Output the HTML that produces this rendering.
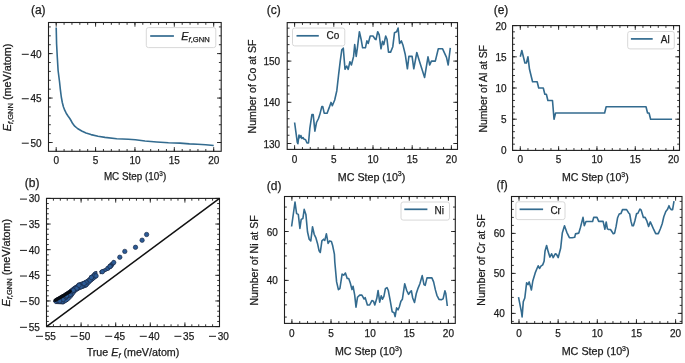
<!DOCTYPE html>
<html><head><meta charset="utf-8"><style>
html,body{margin:0;padding:0;background:#fff;}
svg{display:block;will-change:transform;}
text{font-family:"Liberation Sans",sans-serif;fill:#1c1c1c;stroke:#1c1c1c;stroke-width:0.25px;}
</style></head><body>
<svg width="685" height="363" viewBox="0 0 685 363">
<rect width="685" height="363" fill="#fff"/>
<rect x="48.5" y="22.5" width="172.7" height="128.8" fill="none" stroke="#1e1e1e" stroke-width="1.1"/>
<path d="M56.2 151.3v-4.2M56.2 22.5v4.2M95.58 151.3v-4.2M95.58 22.5v4.2M134.95 151.3v-4.2M134.95 22.5v4.2M174.32 151.3v-4.2M174.32 22.5v4.2M213.7 151.3v-4.2M213.7 22.5v4.2M56.2 151.3v-2.3M56.2 22.5v2.3M64.08 151.3v-2.3M64.08 22.5v2.3M71.95 151.3v-2.3M71.95 22.5v2.3M79.83 151.3v-2.3M79.83 22.5v2.3M87.7 151.3v-2.3M87.7 22.5v2.3M95.58 151.3v-2.3M95.58 22.5v2.3M103.45 151.3v-2.3M103.45 22.5v2.3M111.33 151.3v-2.3M111.33 22.5v2.3M119.2 151.3v-2.3M119.2 22.5v2.3M127.08 151.3v-2.3M127.08 22.5v2.3M134.95 151.3v-2.3M134.95 22.5v2.3M142.82 151.3v-2.3M142.82 22.5v2.3M150.7 151.3v-2.3M150.7 22.5v2.3M158.57 151.3v-2.3M158.57 22.5v2.3M166.45 151.3v-2.3M166.45 22.5v2.3M174.32 151.3v-2.3M174.32 22.5v2.3M182.2 151.3v-2.3M182.2 22.5v2.3M190.07 151.3v-2.3M190.07 22.5v2.3M197.95 151.3v-2.3M197.95 22.5v2.3M205.82 151.3v-2.3M205.82 22.5v2.3M213.7 151.3v-2.3M213.7 22.5v2.3M48.5 53.6h4.2M221.2 53.6h-4.2M48.5 98.05h4.2M221.2 98.05h-4.2M48.5 142.5h4.2M221.2 142.5h-4.2M48.5 142.5h2.3M221.2 142.5h-2.3M48.5 133.61h2.3M221.2 133.61h-2.3M48.5 124.72h2.3M221.2 124.72h-2.3M48.5 115.83h2.3M221.2 115.83h-2.3M48.5 106.94h2.3M221.2 106.94h-2.3M48.5 98.05h2.3M221.2 98.05h-2.3M48.5 89.16h2.3M221.2 89.16h-2.3M48.5 80.27h2.3M221.2 80.27h-2.3M48.5 71.38h2.3M221.2 71.38h-2.3M48.5 62.49h2.3M221.2 62.49h-2.3M48.5 53.6h2.3M221.2 53.6h-2.3M48.5 44.71h2.3M221.2 44.71h-2.3M48.5 35.82h2.3M221.2 35.82h-2.3M48.5 26.93h2.3M221.2 26.93h-2.3" stroke="#1e1e1e" stroke-width="0.9" fill="none"/>
<polyline points="56.2,27.5 56.6,44 57.3,57.2 58.1,70.5 59.5,81.5 60.4,89.8 61.3,97 62.3,102.5 63.4,106.8 64.7,110.2 66.2,113.2 68,116 69.8,118.5 71,120.5 72.5,123.3 74.7,126.2 77.5,128.5 81.7,131 86,133 91,134.6 98,136.3 105,137.4 116.7,138.7 128.4,139.2 135.4,139.8 145,141 156.7,142 168.4,142.8 180,143.1 189.4,143.9 197.6,144.3 205.7,144.8 213.7,145.5" fill="none" stroke="#336b8f" stroke-width="1.6" stroke-linejoin="round" stroke-linecap="butt"/>
<rect x="21.78" y="53.8" width="7" height="1" fill="#1c1c1c"/>
<text x="30.48" y="57.6" font-size="10">40</text>
<rect x="21.78" y="98.25" width="7" height="1" fill="#1c1c1c"/>
<text x="30.48" y="102.05" font-size="10">45</text>
<rect x="21.78" y="142.7" width="7" height="1" fill="#1c1c1c"/>
<text x="30.48" y="146.5" font-size="10">50</text>
<text x="56.2" y="164" font-size="10" text-anchor="middle" >0</text>
<text x="95.58" y="164" font-size="10" text-anchor="middle" >5</text>
<text x="134.95" y="164" font-size="10" text-anchor="middle" >10</text>
<text x="174.32" y="164" font-size="10" text-anchor="middle" >15</text>
<text x="213.7" y="164" font-size="10" text-anchor="middle" >20</text>
<text x="135.05" y="179.9" font-size="10" text-anchor="middle" textLength="62.3" lengthAdjust="spacingAndGlyphs">MC Step (10<tspan font-size="6.5" dy="-4.2">3</tspan><tspan dy="4.2">)</tspan></text>
<text x="38.3" y="14.2" font-size="12" text-anchor="middle" >(a)</text>
<text transform="translate(10.8,87.4) rotate(-90)" font-size="10.4" text-anchor="middle" textLength="87.7" lengthAdjust="spacingAndGlyphs"><tspan font-style="italic">E</tspan><tspan font-size="7.28" dy="2.2"><tspan font-style="italic">f</tspan>,GNN</tspan><tspan dy="-2.2"> (meV/atom)</tspan></text>
<rect x="146.3" y="27.6" width="69.5" height="20" rx="2.2" fill="#fff" fill-opacity="0.85" stroke="#d4d4d4" stroke-width="0.9"/>
<path d="M150.2 36H173.9" stroke="#336b8f" stroke-width="1.7"/>
<text x="181.3" y="40.2" font-size="10.8"><tspan font-style="italic">E</tspan><tspan font-size="7.6" dy="2.2"><tspan font-style="italic">f</tspan>,GNN</tspan></text>
<rect x="46.5" y="198.4" width="173" height="128.2" fill="none" stroke="#1e1e1e" stroke-width="1.1"/>
<path d="M46.5 326.6v-4.2M46.5 198.4v4.2M81.1 326.6v-4.2M81.1 198.4v4.2M115.7 326.6v-4.2M115.7 198.4v4.2M150.3 326.6v-4.2M150.3 198.4v4.2M184.9 326.6v-4.2M184.9 198.4v4.2M219.5 326.6v-4.2M219.5 198.4v4.2M53.42 326.6v-2.3M53.42 198.4v2.3M60.34 326.6v-2.3M60.34 198.4v2.3M67.26 326.6v-2.3M67.26 198.4v2.3M74.18 326.6v-2.3M74.18 198.4v2.3M81.1 326.6v-2.3M81.1 198.4v2.3M88.02 326.6v-2.3M88.02 198.4v2.3M94.94 326.6v-2.3M94.94 198.4v2.3M101.86 326.6v-2.3M101.86 198.4v2.3M108.78 326.6v-2.3M108.78 198.4v2.3M115.7 326.6v-2.3M115.7 198.4v2.3M122.62 326.6v-2.3M122.62 198.4v2.3M129.54 326.6v-2.3M129.54 198.4v2.3M136.46 326.6v-2.3M136.46 198.4v2.3M143.38 326.6v-2.3M143.38 198.4v2.3M150.3 326.6v-2.3M150.3 198.4v2.3M157.22 326.6v-2.3M157.22 198.4v2.3M164.14 326.6v-2.3M164.14 198.4v2.3M171.06 326.6v-2.3M171.06 198.4v2.3M177.98 326.6v-2.3M177.98 198.4v2.3M184.9 326.6v-2.3M184.9 198.4v2.3M191.82 326.6v-2.3M191.82 198.4v2.3M198.74 326.6v-2.3M198.74 198.4v2.3M205.66 326.6v-2.3M205.66 198.4v2.3M212.58 326.6v-2.3M212.58 198.4v2.3M46.5 326.6h4.2M219.5 326.6h-4.2M46.5 300.96h4.2M219.5 300.96h-4.2M46.5 275.32h4.2M219.5 275.32h-4.2M46.5 249.68h4.2M219.5 249.68h-4.2M46.5 224.04h4.2M219.5 224.04h-4.2M46.5 198.4h4.2M219.5 198.4h-4.2M46.5 321.47h2.3M219.5 321.47h-2.3M46.5 316.34h2.3M219.5 316.34h-2.3M46.5 311.22h2.3M219.5 311.22h-2.3M46.5 306.09h2.3M219.5 306.09h-2.3M46.5 300.96h2.3M219.5 300.96h-2.3M46.5 295.83h2.3M219.5 295.83h-2.3M46.5 290.7h2.3M219.5 290.7h-2.3M46.5 285.58h2.3M219.5 285.58h-2.3M46.5 280.45h2.3M219.5 280.45h-2.3M46.5 275.32h2.3M219.5 275.32h-2.3M46.5 270.19h2.3M219.5 270.19h-2.3M46.5 265.06h2.3M219.5 265.06h-2.3M46.5 259.94h2.3M219.5 259.94h-2.3M46.5 254.81h2.3M219.5 254.81h-2.3M46.5 249.68h2.3M219.5 249.68h-2.3M46.5 244.55h2.3M219.5 244.55h-2.3M46.5 239.42h2.3M219.5 239.42h-2.3M46.5 234.3h2.3M219.5 234.3h-2.3M46.5 229.17h2.3M219.5 229.17h-2.3M46.5 224.04h2.3M219.5 224.04h-2.3M46.5 218.91h2.3M219.5 218.91h-2.3M46.5 213.78h2.3M219.5 213.78h-2.3M46.5 208.66h2.3M219.5 208.66h-2.3M46.5 203.53h2.3M219.5 203.53h-2.3" stroke="#1e1e1e" stroke-width="0.9" fill="none"/>
<path d="M46.5 326.6L219.5 198.4" stroke="#111" stroke-width="1.5"/>
<rect x="19.98" y="198.6" width="7" height="1" fill="#1c1c1c"/>
<text x="28.68" y="202.4" font-size="10">30</text>
<rect x="19.98" y="224.24" width="7" height="1" fill="#1c1c1c"/>
<text x="28.68" y="228.04" font-size="10">35</text>
<rect x="19.98" y="249.88" width="7" height="1" fill="#1c1c1c"/>
<text x="28.68" y="253.68" font-size="10">40</text>
<rect x="19.98" y="275.52" width="7" height="1" fill="#1c1c1c"/>
<text x="28.68" y="279.32" font-size="10">45</text>
<rect x="19.98" y="301.16" width="7" height="1" fill="#1c1c1c"/>
<text x="28.68" y="304.96" font-size="10">50</text>
<rect x="19.98" y="326.8" width="7" height="1" fill="#1c1c1c"/>
<text x="28.68" y="330.6" font-size="10">55</text>
<rect x="35.99" y="335.8" width="7" height="1" fill="#1c1c1c"/>
<text x="44.69" y="339.6" font-size="10">55</text>
<rect x="70.59" y="335.8" width="7" height="1" fill="#1c1c1c"/>
<text x="79.29" y="339.6" font-size="10">50</text>
<rect x="105.19" y="335.8" width="7" height="1" fill="#1c1c1c"/>
<text x="113.89" y="339.6" font-size="10">45</text>
<rect x="139.79" y="335.8" width="7" height="1" fill="#1c1c1c"/>
<text x="148.49" y="339.6" font-size="10">40</text>
<rect x="174.39" y="335.8" width="7" height="1" fill="#1c1c1c"/>
<text x="183.09" y="339.6" font-size="10">35</text>
<rect x="208.99" y="335.8" width="7" height="1" fill="#1c1c1c"/>
<text x="217.69" y="339.6" font-size="10">30</text>
<text x="32.2" y="187.2" font-size="12" text-anchor="middle" >(b)</text>
<text transform="translate(9.6,262.65) rotate(-90)" font-size="10.4" text-anchor="middle" textLength="87.7" lengthAdjust="spacingAndGlyphs"><tspan font-style="italic">E</tspan><tspan font-size="7.28" dy="2.2"><tspan font-style="italic">f</tspan>,GNN</tspan><tspan dy="-2.2"> (meV/atom)</tspan></text>
<text x="133" y="355.5" font-size="10.4" text-anchor="middle" textLength="92.7" lengthAdjust="spacingAndGlyphs">True <tspan font-style="italic">E</tspan><tspan font-size="7" dy="2.2" font-style="italic">f</tspan><tspan dy="-2.2"> (meV/atom)</tspan></text>
<rect x="287.2" y="22.6" width="170.3" height="126.8" fill="none" stroke="#1e1e1e" stroke-width="1.1"/>
<path d="M294.6 149.4v-4.2M294.6 22.6v4.2M333.8 149.4v-4.2M333.8 22.6v4.2M373 149.4v-4.2M373 22.6v4.2M412.2 149.4v-4.2M412.2 22.6v4.2M451.4 149.4v-4.2M451.4 22.6v4.2M294.6 149.4v-2.3M294.6 22.6v2.3M302.44 149.4v-2.3M302.44 22.6v2.3M310.28 149.4v-2.3M310.28 22.6v2.3M318.12 149.4v-2.3M318.12 22.6v2.3M325.96 149.4v-2.3M325.96 22.6v2.3M333.8 149.4v-2.3M333.8 22.6v2.3M341.64 149.4v-2.3M341.64 22.6v2.3M349.48 149.4v-2.3M349.48 22.6v2.3M357.32 149.4v-2.3M357.32 22.6v2.3M365.16 149.4v-2.3M365.16 22.6v2.3M373 149.4v-2.3M373 22.6v2.3M380.84 149.4v-2.3M380.84 22.6v2.3M388.68 149.4v-2.3M388.68 22.6v2.3M396.52 149.4v-2.3M396.52 22.6v2.3M404.36 149.4v-2.3M404.36 22.6v2.3M412.2 149.4v-2.3M412.2 22.6v2.3M420.04 149.4v-2.3M420.04 22.6v2.3M427.88 149.4v-2.3M427.88 22.6v2.3M435.72 149.4v-2.3M435.72 22.6v2.3M443.56 149.4v-2.3M443.56 22.6v2.3M451.4 149.4v-2.3M451.4 22.6v2.3M287.2 143.5h4.2M457.5 143.5h-4.2M287.2 102.3h4.2M457.5 102.3h-4.2M287.2 61.1h4.2M457.5 61.1h-4.2M287.2 143.5h2.3M457.5 143.5h-2.3M287.2 135.26h2.3M457.5 135.26h-2.3M287.2 127.02h2.3M457.5 127.02h-2.3M287.2 118.78h2.3M457.5 118.78h-2.3M287.2 110.54h2.3M457.5 110.54h-2.3M287.2 102.3h2.3M457.5 102.3h-2.3M287.2 94.06h2.3M457.5 94.06h-2.3M287.2 85.82h2.3M457.5 85.82h-2.3M287.2 77.58h2.3M457.5 77.58h-2.3M287.2 69.34h2.3M457.5 69.34h-2.3M287.2 61.1h2.3M457.5 61.1h-2.3M287.2 52.86h2.3M457.5 52.86h-2.3M287.2 44.62h2.3M457.5 44.62h-2.3M287.2 36.38h2.3M457.5 36.38h-2.3M287.2 28.14h2.3M457.5 28.14h-2.3" stroke="#1e1e1e" stroke-width="0.9" fill="none"/>
<polyline points="294.6,122.5 297.3,142.4 297.9,143.7 299,135.1 299.9,137.7 300.9,135.5 301.9,138.4 303,137.5 303.9,139.1 305.6,139.7 307,143 308.5,143 309.9,127.8 311.9,114.6 313.2,114.6 314.9,131.1 316.5,122.5 318.5,118.5 319.8,114.6 321.8,106.6 322.8,106.6 324.2,113.2 327.1,113.2 329.1,107.9 331,102.4 332.3,105.7 334.7,100 336.8,90.7 338.5,75.7 340.3,60.7 341.8,49.9 343.3,48.2 345,69.3 346.7,66 348.2,69.3 349.9,61.7 351.4,65 353.6,56.4 354.7,44.6 356.2,56.4 357.4,47.8 359.4,31.7 361.1,39.2 362.6,47.8 365.4,47.8 366.9,40.9 368.2,43.5 370.2,36 373,36 375.2,39.2 376,39.6 377.7,31.7 379.2,34.9 381,48.8 382.5,41.3 383.8,44.6 385.7,36 387,39.2 388.5,52.1 390.6,52.1 392.8,46.7 394.5,32.7 396.6,31.7 398.1,28 399.6,43.5 401.4,40.9 403.1,45.6 405.2,54.2 407.4,68.8 408.9,56.4 412.1,56.4 413.8,68.8 416.8,52.5 419.6,61.7 424.6,77.4 428,56.8 429.7,65 431.4,61.1 435.3,61.1 438.3,48.8 442.6,48.8 446.5,57.4 448.2,65 450.3,47.8" fill="none" stroke="#336b8f" stroke-width="1.6" stroke-linejoin="round" stroke-linecap="butt"/>
<text x="280.2" y="147.5" font-size="10" text-anchor="end" >130</text>
<text x="280.2" y="106.3" font-size="10" text-anchor="end" >140</text>
<text x="280.2" y="65.1" font-size="10" text-anchor="end" >150</text>
<text x="294.6" y="162.5" font-size="10" text-anchor="middle" >0</text>
<text x="333.8" y="162.5" font-size="10" text-anchor="middle" >5</text>
<text x="373" y="162.5" font-size="10" text-anchor="middle" >10</text>
<text x="412.2" y="162.5" font-size="10" text-anchor="middle" >15</text>
<text x="451.4" y="162.5" font-size="10" text-anchor="middle" >20</text>
<text x="371.55" y="180.7" font-size="10.4" text-anchor="middle" textLength="67.5" lengthAdjust="spacingAndGlyphs">MC Step (10<tspan font-size="6.8" dy="-4.4">3</tspan><tspan dy="4.4">)</tspan></text>
<text x="273.8" y="14.2" font-size="12" text-anchor="middle" >(c)</text>
<text transform="translate(256.1,86.5) rotate(-90)" font-size="10.4" text-anchor="middle" textLength="93.8" lengthAdjust="spacingAndGlyphs">Number of Co at SF</text>
<rect x="292.5" y="28" width="52.3" height="17.9" rx="2.2" fill="#fff" fill-opacity="0.85" stroke="#d4d4d4" stroke-width="0.9"/>
<path d="M296.5 35.8H318.8" stroke="#336b8f" stroke-width="1.7"/>
<text x="326.6" y="39.3" font-size="10">Co</text>
<rect x="284.5" y="196.5" width="170.8" height="126.9" fill="none" stroke="#1e1e1e" stroke-width="1.1"/>
<path d="M291.9 323.4v-4.2M291.9 196.5v4.2M331.02 323.4v-4.2M331.02 196.5v4.2M370.15 323.4v-4.2M370.15 196.5v4.2M409.27 323.4v-4.2M409.27 196.5v4.2M448.4 323.4v-4.2M448.4 196.5v4.2M291.9 323.4v-2.3M291.9 196.5v2.3M299.72 323.4v-2.3M299.72 196.5v2.3M307.55 323.4v-2.3M307.55 196.5v2.3M315.38 323.4v-2.3M315.38 196.5v2.3M323.2 323.4v-2.3M323.2 196.5v2.3M331.02 323.4v-2.3M331.02 196.5v2.3M338.85 323.4v-2.3M338.85 196.5v2.3M346.67 323.4v-2.3M346.67 196.5v2.3M354.5 323.4v-2.3M354.5 196.5v2.3M362.32 323.4v-2.3M362.32 196.5v2.3M370.15 323.4v-2.3M370.15 196.5v2.3M377.97 323.4v-2.3M377.97 196.5v2.3M385.8 323.4v-2.3M385.8 196.5v2.3M393.62 323.4v-2.3M393.62 196.5v2.3M401.45 323.4v-2.3M401.45 196.5v2.3M409.27 323.4v-2.3M409.27 196.5v2.3M417.1 323.4v-2.3M417.1 196.5v2.3M424.92 323.4v-2.3M424.92 196.5v2.3M432.75 323.4v-2.3M432.75 196.5v2.3M440.57 323.4v-2.3M440.57 196.5v2.3M448.4 323.4v-2.3M448.4 196.5v2.3M284.5 280.4h4.2M455.3 280.4h-4.2M284.5 231.5h4.2M455.3 231.5h-4.2M284.5 317.07h2.3M455.3 317.07h-2.3M284.5 304.85h2.3M455.3 304.85h-2.3M284.5 292.62h2.3M455.3 292.62h-2.3M284.5 280.4h2.3M455.3 280.4h-2.3M284.5 268.18h2.3M455.3 268.18h-2.3M284.5 255.95h2.3M455.3 255.95h-2.3M284.5 243.72h2.3M455.3 243.72h-2.3M284.5 231.5h2.3M455.3 231.5h-2.3M284.5 219.28h2.3M455.3 219.28h-2.3M284.5 207.05h2.3M455.3 207.05h-2.3" stroke="#1e1e1e" stroke-width="0.9" fill="none"/>
<polyline points="291.6,226.5 295,202 296.6,213.6 298.3,214.4 299.9,228.5 301.2,219.4 302.9,218.5 304.2,209.4 305.9,214.4 307.5,231.8 309.2,239.2 310.8,240.9 312.5,226.8 314.2,234.3 315.8,237.6 317.5,243.4 319.1,250.8 320.3,252.5 321.9,240.9 323.6,239.2 324.8,240.4 326.4,233.8 328.1,243.4 329.7,240.9 331.4,241.4 332.7,245.8 334.4,254.1 334.8,262 336.6,281.9 338.4,289.6 339.9,288.5 342.1,274.1 343.7,275.2 345.4,273 347.2,278.5 348.7,278.5 350.3,283 352,289.6 353.1,286.3 354.7,295.1 356,307.2 357.5,297.3 359.7,295.1 361.9,295.1 364.1,299 365.2,297.7 367.4,305 369.6,305 371.9,300.6 373.5,301.2 374.8,305 376.8,298.3 378.1,290.5 379.7,302.1 381.2,295.9 382.5,299.2 383.9,296.3 385.4,288.6 387,287.6 388.3,290.5 390.3,301.2 392.2,311.8 394.1,312.7 395.1,316.6 396.6,307.9 398,309.8 399.3,307 400.9,301.2 402.4,299.2 404.7,283.8 406.7,290.5 408.6,294.4 410.5,291.5 411.4,290.8 412.7,298 414.5,302.5 416.3,293.5 418.1,288.1 419.9,283.7 422.2,275.6 424,284.6 425.2,285.4 427,277.9 431.9,277.9 433.6,281.9 435.4,289.9 436.9,295.3 439,299.4 441.3,299.8 443.1,298.9 444.9,290.8 445.8,293.5 447.3,306" fill="none" stroke="#336b8f" stroke-width="1.6" stroke-linejoin="round" stroke-linecap="butt"/>
<text x="277.9" y="284.4" font-size="10" text-anchor="end" >40</text>
<text x="277.9" y="235.5" font-size="10" text-anchor="end" >60</text>
<text x="291.9" y="336.7" font-size="10" text-anchor="middle" >0</text>
<text x="331.02" y="336.7" font-size="10" text-anchor="middle" >5</text>
<text x="370.15" y="336.7" font-size="10" text-anchor="middle" >10</text>
<text x="409.27" y="336.7" font-size="10" text-anchor="middle" >15</text>
<text x="448.4" y="336.7" font-size="10" text-anchor="middle" >20</text>
<text x="368.65" y="355.3" font-size="10.4" text-anchor="middle" textLength="67.5" lengthAdjust="spacingAndGlyphs">MC Step (10<tspan font-size="6.8" dy="-4.4">3</tspan><tspan dy="4.4">)</tspan></text>
<text x="274.2" y="190.4" font-size="12" text-anchor="middle" >(d)</text>
<text transform="translate(257.7,260.5) rotate(-90)" font-size="10.4" text-anchor="middle" textLength="90.2" lengthAdjust="spacingAndGlyphs">Number of Ni at SF</text>
<rect x="401" y="202" width="48.5" height="18.1" rx="2.2" fill="#fff" fill-opacity="0.85" stroke="#d4d4d4" stroke-width="0.9"/>
<path d="M404.3 209.3H427.4" stroke="#336b8f" stroke-width="1.7"/>
<text x="434.6" y="213.7" font-size="10">Ni</text>
<rect x="512.6" y="25.6" width="166.9" height="124.8" fill="none" stroke="#1e1e1e" stroke-width="1.1"/>
<path d="M520.3 150.4v-4.2M520.3 25.6v4.2M558.62 150.4v-4.2M558.62 25.6v4.2M596.95 150.4v-4.2M596.95 25.6v4.2M635.27 150.4v-4.2M635.27 25.6v4.2M673.6 150.4v-4.2M673.6 25.6v4.2M520.3 150.4v-2.3M520.3 25.6v2.3M527.96 150.4v-2.3M527.96 25.6v2.3M535.63 150.4v-2.3M535.63 25.6v2.3M543.29 150.4v-2.3M543.29 25.6v2.3M550.96 150.4v-2.3M550.96 25.6v2.3M558.62 150.4v-2.3M558.62 25.6v2.3M566.29 150.4v-2.3M566.29 25.6v2.3M573.95 150.4v-2.3M573.95 25.6v2.3M581.62 150.4v-2.3M581.62 25.6v2.3M589.28 150.4v-2.3M589.28 25.6v2.3M596.95 150.4v-2.3M596.95 25.6v2.3M604.62 150.4v-2.3M604.62 25.6v2.3M612.28 150.4v-2.3M612.28 25.6v2.3M619.94 150.4v-2.3M619.94 25.6v2.3M627.61 150.4v-2.3M627.61 25.6v2.3M635.27 150.4v-2.3M635.27 25.6v2.3M642.94 150.4v-2.3M642.94 25.6v2.3M650.61 150.4v-2.3M650.61 25.6v2.3M658.27 150.4v-2.3M658.27 25.6v2.3M665.93 150.4v-2.3M665.93 25.6v2.3M673.6 150.4v-2.3M673.6 25.6v2.3M512.6 150.4h4.2M679.5 150.4h-4.2M512.6 119.2h4.2M679.5 119.2h-4.2M512.6 88h4.2M679.5 88h-4.2M512.6 56.8h4.2M679.5 56.8h-4.2M512.6 25.6h4.2M679.5 25.6h-4.2M512.6 144.16h2.3M679.5 144.16h-2.3M512.6 137.92h2.3M679.5 137.92h-2.3M512.6 131.68h2.3M679.5 131.68h-2.3M512.6 125.44h2.3M679.5 125.44h-2.3M512.6 119.2h2.3M679.5 119.2h-2.3M512.6 112.96h2.3M679.5 112.96h-2.3M512.6 106.72h2.3M679.5 106.72h-2.3M512.6 100.48h2.3M679.5 100.48h-2.3M512.6 94.24h2.3M679.5 94.24h-2.3M512.6 88h2.3M679.5 88h-2.3M512.6 81.76h2.3M679.5 81.76h-2.3M512.6 75.52h2.3M679.5 75.52h-2.3M512.6 69.28h2.3M679.5 69.28h-2.3M512.6 63.04h2.3M679.5 63.04h-2.3M512.6 56.8h2.3M679.5 56.8h-2.3M512.6 50.56h2.3M679.5 50.56h-2.3M512.6 44.32h2.3M679.5 44.32h-2.3M512.6 38.08h2.3M679.5 38.08h-2.3M512.6 31.84h2.3M679.5 31.84h-2.3" stroke="#1e1e1e" stroke-width="0.9" fill="none"/>
<polyline points="520.3,56.8 521.83,50.56 523.37,56.8 524.9,63.04 526.43,63.04 527.96,56.8 529.5,69.28 531.03,75.52 532.56,81.76 534.1,81.76 535.63,81.76 537.16,81.76 538.7,88 540.23,88 541.76,88 543.29,88 544.83,94.24 546.36,94.24 547.89,100.48 549.43,100.48 550.96,100.48 552.49,100.48 554.03,119.2 555.56,112.96 557.09,112.96 558.62,112.96 560.16,112.96 561.69,112.96 563.22,112.96 564.76,112.96 566.29,112.96 567.82,112.96 569.36,112.96 570.89,112.96 572.42,112.96 573.95,112.96 575.49,112.96 577.02,112.96 578.55,112.96 580.09,112.96 581.62,112.96 583.15,112.96 584.69,112.96 586.22,112.96 587.75,112.96 589.28,112.96 590.82,112.96 592.35,112.96 593.88,112.96 595.42,112.96 596.95,112.96 598.48,112.96 600.02,112.96 601.55,112.96 603.08,112.96 604.62,112.96 606.15,106.72 607.68,106.72 609.21,106.72 610.75,106.72 612.28,106.72 613.81,106.72 615.35,106.72 616.88,106.72 618.41,106.72 619.94,106.72 621.48,106.72 623.01,106.72 624.54,106.72 626.08,106.72 627.61,106.72 629.14,106.72 630.68,106.72 632.21,106.72 633.74,106.72 635.27,106.72 636.81,106.72 638.34,106.72 639.87,106.72 641.41,106.72 642.94,106.72 644.47,106.72 646.01,106.72 647.54,112.96 649.07,112.96 650.61,119.2 652.14,119.2 653.67,119.2 655.2,119.2 656.74,119.2 658.27,119.2 659.8,119.2 661.34,119.2 662.87,119.2 664.4,119.2 665.93,119.2 667.47,119.2 669,119.2 670.53,119.2 672.07,119.2" fill="none" stroke="#336b8f" stroke-width="1.6" stroke-linejoin="round" stroke-linecap="butt"/>
<text x="506.6" y="154.4" font-size="10" text-anchor="end" >0</text>
<text x="506.6" y="123.2" font-size="10" text-anchor="end" >5</text>
<text x="506.6" y="92" font-size="10" text-anchor="end" >10</text>
<text x="506.6" y="60.8" font-size="10" text-anchor="end" >15</text>
<text x="506.6" y="29.6" font-size="10" text-anchor="end" >20</text>
<text x="520.3" y="162.5" font-size="10" text-anchor="middle" >0</text>
<text x="558.62" y="162.5" font-size="10" text-anchor="middle" >5</text>
<text x="596.95" y="162.5" font-size="10" text-anchor="middle" >10</text>
<text x="635.27" y="162.5" font-size="10" text-anchor="middle" >15</text>
<text x="673.6" y="162.5" font-size="10" text-anchor="middle" >20</text>
<text x="595.35" y="181" font-size="10.4" text-anchor="middle" textLength="66.8" lengthAdjust="spacingAndGlyphs">MC Step (10<tspan font-size="6.8" dy="-4.4">3</tspan><tspan dy="4.4">)</tspan></text>
<text x="501" y="14.2" font-size="12" text-anchor="middle" >(e)</text>
<text transform="translate(487,88.85) rotate(-90)" font-size="10.4" text-anchor="middle" textLength="87.5" lengthAdjust="spacingAndGlyphs">Number of Al at SF</text>
<rect x="627.7" y="31.5" width="46.6" height="17.4" rx="2.2" fill="#fff" fill-opacity="0.85" stroke="#d4d4d4" stroke-width="0.9"/>
<path d="M630.9 38.9H652.7" stroke="#336b8f" stroke-width="1.7"/>
<text x="660.8" y="42.8" font-size="10">Al</text>
<rect x="511.5" y="196.5" width="170.5" height="126.9" fill="none" stroke="#1e1e1e" stroke-width="1.1"/>
<path d="M519 323.4v-4.2M519 196.5v4.2M558.15 323.4v-4.2M558.15 196.5v4.2M597.3 323.4v-4.2M597.3 196.5v4.2M636.45 323.4v-4.2M636.45 196.5v4.2M675.6 323.4v-4.2M675.6 196.5v4.2M519 323.4v-2.3M519 196.5v2.3M526.83 323.4v-2.3M526.83 196.5v2.3M534.66 323.4v-2.3M534.66 196.5v2.3M542.49 323.4v-2.3M542.49 196.5v2.3M550.32 323.4v-2.3M550.32 196.5v2.3M558.15 323.4v-2.3M558.15 196.5v2.3M565.98 323.4v-2.3M565.98 196.5v2.3M573.81 323.4v-2.3M573.81 196.5v2.3M581.64 323.4v-2.3M581.64 196.5v2.3M589.47 323.4v-2.3M589.47 196.5v2.3M597.3 323.4v-2.3M597.3 196.5v2.3M605.13 323.4v-2.3M605.13 196.5v2.3M612.96 323.4v-2.3M612.96 196.5v2.3M620.79 323.4v-2.3M620.79 196.5v2.3M628.62 323.4v-2.3M628.62 196.5v2.3M636.45 323.4v-2.3M636.45 196.5v2.3M644.28 323.4v-2.3M644.28 196.5v2.3M652.11 323.4v-2.3M652.11 196.5v2.3M659.94 323.4v-2.3M659.94 196.5v2.3M667.77 323.4v-2.3M667.77 196.5v2.3M675.6 323.4v-2.3M675.6 196.5v2.3M511.5 313.4h4.2M682 313.4h-4.2M511.5 273.4h4.2M682 273.4h-4.2M511.5 233.4h4.2M682 233.4h-4.2M511.5 321.4h2.3M682 321.4h-2.3M511.5 313.4h2.3M682 313.4h-2.3M511.5 305.4h2.3M682 305.4h-2.3M511.5 297.4h2.3M682 297.4h-2.3M511.5 289.4h2.3M682 289.4h-2.3M511.5 281.4h2.3M682 281.4h-2.3M511.5 273.4h2.3M682 273.4h-2.3M511.5 265.4h2.3M682 265.4h-2.3M511.5 257.4h2.3M682 257.4h-2.3M511.5 249.4h2.3M682 249.4h-2.3M511.5 241.4h2.3M682 241.4h-2.3M511.5 233.4h2.3M682 233.4h-2.3M511.5 225.4h2.3M682 225.4h-2.3M511.5 217.4h2.3M682 217.4h-2.3M511.5 209.4h2.3M682 209.4h-2.3M511.5 201.4h2.3M682 201.4h-2.3" stroke="#1e1e1e" stroke-width="0.9" fill="none"/>
<polyline points="518.5,297.2 521.5,312.4 522.1,316.9 523.3,301.6 524.8,298 526.6,282.8 528,284.6 529.2,281.9 531.4,290 532.8,281 535.2,272.9 537,268.5 538.2,265.8 539.5,268.5 540.9,266.1 542.7,264.9 544.1,261.3 545,251.3 546.6,245.5 548.3,252.1 549.9,257.1 551.6,253.8 553.2,257.6 555.2,253.8 556.5,254.3 558.2,257.6 560.7,248 562.3,233.1 564.5,225.7 566.8,232.3 569.4,237.7 572.2,237.7 574.7,237.2 575.5,233.9 578.8,233.1 580.5,227.3 583,217.4 584.3,225.7 586,221.5 592.6,221.5 593.7,217.4 597,217.4 598.7,221.4 603.1,221.4 604.9,229.2 606.2,222 607.4,228.9 608.6,229.5 610.5,229.5 611.7,231.3 613.3,233.8 614.6,233.2 616.1,226.4 617.6,217.7 619.2,214 621,213.4 622.5,209.6 626.6,209.6 628.5,212.7 629.7,214 631,221.4 632.2,225.8 633.4,225.8 634.9,220.8 636.6,213.5 637.8,213.5 639.9,209 641.2,210.2 643.4,217.4 645.1,217.4 646.7,220.6 648.6,226.4 650.3,221.9 651.8,225.1 653.8,229.7 655.7,233.6 658.3,233.6 660.3,229 662.2,223.8 663.8,216.7 665.8,211.5 667.4,209.6 669,205.7 670,208.3 671.3,209.6 672.6,209.6 674,201.2" fill="none" stroke="#336b8f" stroke-width="1.6" stroke-linejoin="round" stroke-linecap="butt"/>
<text x="504.8" y="317.4" font-size="10" text-anchor="end" >40</text>
<text x="504.8" y="277.4" font-size="10" text-anchor="end" >50</text>
<text x="504.8" y="237.4" font-size="10" text-anchor="end" >60</text>
<text x="519" y="336.7" font-size="10" text-anchor="middle" >0</text>
<text x="558.15" y="336.7" font-size="10" text-anchor="middle" >5</text>
<text x="597.3" y="336.7" font-size="10" text-anchor="middle" >10</text>
<text x="636.45" y="336.7" font-size="10" text-anchor="middle" >15</text>
<text x="675.6" y="336.7" font-size="10" text-anchor="middle" >20</text>
<text x="595.65" y="355.3" font-size="10.4" text-anchor="middle" textLength="68" lengthAdjust="spacingAndGlyphs">MC Step (10<tspan font-size="6.8" dy="-4.4">3</tspan><tspan dy="4.4">)</tspan></text>
<text x="502.1" y="189.2" font-size="12" text-anchor="middle" >(f)</text>
<text transform="translate(485,260) rotate(-90)" font-size="10.4" text-anchor="middle" textLength="91.3" lengthAdjust="spacingAndGlyphs">Number of Cr at SF</text>
<rect x="515.9" y="201.8" width="49.1" height="17.8" rx="2.2" fill="#fff" fill-opacity="0.85" stroke="#d4d4d4" stroke-width="0.9"/>
<path d="M519.6 209.3H543.1" stroke="#336b8f" stroke-width="1.7"/>
<text x="550.4" y="213.6" font-size="10">Cr</text>
<polygon points="53.8,300.4 56,298.6 63.5,293.9 68.5,290.6 73.5,286.6 80.1,282.6 85,280.8 90,276.8 94.2,271.9 96.8,271.4 97.2,277.4 91.7,282 86.7,286.9 80.1,289.4 76,292 71.8,297.6 68.5,300.9 63.5,303.9 55.3,303.5 53.6,302" fill="#2c5b96" stroke="#16233e" stroke-width="0.9" stroke-linejoin="round"/>
<polygon points="99.8,271 106.6,267.7 109.9,264.4 113.6,260.6 115.2,262.6 112.4,267 106.6,271.1 100.2,273.8" fill="#2c5b96" stroke="#16233e" stroke-width="0.9" stroke-linejoin="round"/>
<g fill="#2c5b96" stroke="#1a2946" stroke-width="0.65"><circle cx="62.22" cy="301.59" r="2.2"/><circle cx="86.08" cy="284.66" r="2.2"/><circle cx="57.71" cy="299.85" r="2.2"/><circle cx="69.17" cy="295.44" r="2.2"/><circle cx="111.88" cy="264.47" r="2.2"/><circle cx="70.48" cy="294.33" r="2.2"/><circle cx="110.58" cy="265.88" r="2.2"/><circle cx="79.11" cy="284.87" r="2.2"/><circle cx="107.9" cy="268.29" r="2.2"/><circle cx="74.28" cy="289.02" r="2.2"/><circle cx="80.24" cy="286.27" r="2.2"/><circle cx="110.18" cy="266.31" r="2.2"/><circle cx="78.65" cy="287.18" r="2.2"/><circle cx="91.4" cy="277.48" r="2.2"/><circle cx="89.96" cy="280.24" r="2.2"/><circle cx="75.78" cy="288.08" r="2.2"/><circle cx="82.42" cy="286.05" r="2.2"/><circle cx="65.57" cy="297.68" r="2.2"/><circle cx="73.14" cy="290.43" r="2.2"/><circle cx="63.91" cy="297.5" r="2.2"/><circle cx="60.38" cy="299.96" r="2.2"/><circle cx="77.92" cy="287.11" r="2.2"/><circle cx="71.18" cy="291.72" r="2.2"/><circle cx="102.34" cy="271.74" r="2.2"/><circle cx="63.04" cy="299.65" r="2.2"/><circle cx="94.44" cy="275.65" r="2.2"/><circle cx="91.42" cy="277.52" r="2.2"/><circle cx="57.72" cy="300.25" r="2.2"/><circle cx="72.15" cy="290.98" r="2.2"/><circle cx="113.73" cy="262.48" r="2.2"/><circle cx="73.47" cy="290.31" r="2.2"/><circle cx="76.91" cy="288.17" r="2.2"/><circle cx="80.98" cy="286.85" r="2.2"/><circle cx="66" cy="296.8" r="2.2"/><circle cx="96.12" cy="275.88" r="2.2"/><circle cx="109.99" cy="266.51" r="2.2"/><circle cx="78.97" cy="285.3" r="2.2"/><circle cx="59.71" cy="300.99" r="2.2"/><circle cx="66.56" cy="295.8" r="2.2"/><circle cx="86.03" cy="282.25" r="2.2"/><circle cx="84.15" cy="283.5" r="2.2"/><circle cx="119.8" cy="257.2" r="2.2"/><circle cx="124.8" cy="251.4" r="2.2"/><circle cx="135.5" cy="247.3" r="2.2"/><circle cx="142.1" cy="240.2" r="2.2"/><circle cx="146.6" cy="234.5" r="2.2"/></g>
<path d="M55.2 300.2L63.5 295.6L70.2 291.4" stroke="#070b12" stroke-width="3.4" stroke-linecap="round" stroke-linejoin="round" fill="none"/>
</svg></body></html>
